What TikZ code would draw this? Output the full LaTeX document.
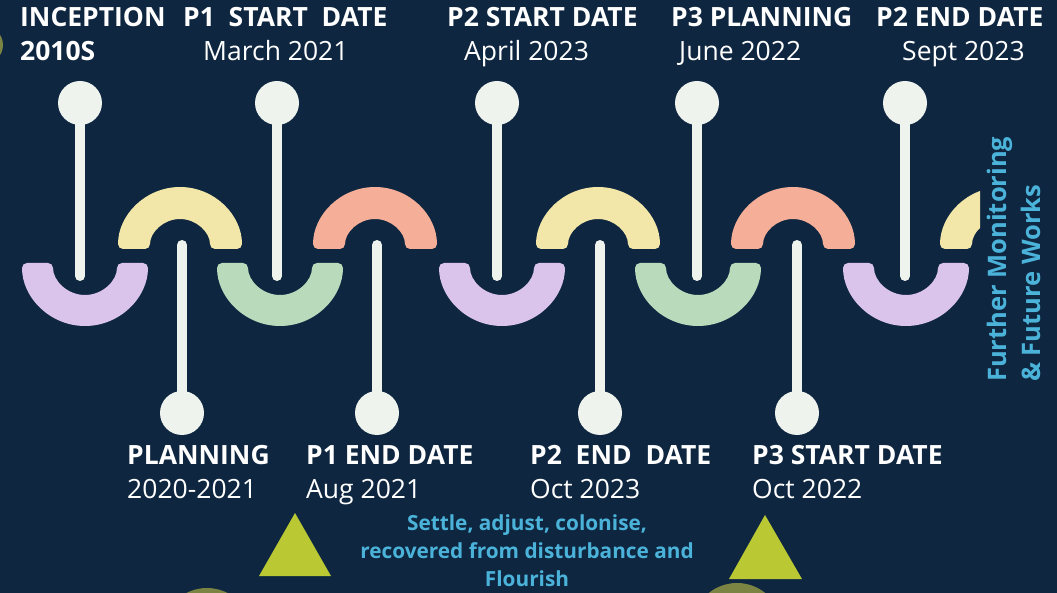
\documentclass[tikz,border=0pt]{standalone}
\usepackage{fontspec}
\setmainfont{Open Sans}
\usepackage{xcolor}
\definecolor{navy}{HTML}{0E2640}
\definecolor{pin}{HTML}{EEF3EE}
\definecolor{lilac}{HTML}{DAC4EC}
\definecolor{butter}{HTML}{F2E7A8}
\definecolor{mint}{HTML}{B9DBBC}
\definecolor{salmon}{HTML}{F5AE97}
\definecolor{sky}{HTML}{4BB3D9}
\definecolor{lime}{HTML}{BAC933}
\definecolor{olive}{HTML}{7B8443}

\begin{document}
\begin{tikzpicture}[
    x=1pt, y=-1pt,
    head/.style={circle, fill=pin, minimum size=44pt, inner sep=0pt},
    stem/.style={draw=pin, line width=10pt, line cap=round},
    title/.style={anchor=base west, inner sep=0pt, text=white,
                  font=\bfseries\fontsize{26.5}{30}\selectfont},
    when/.style={anchor=base west, inner sep=0pt, text=white,
                 font=\fontsize{26.5}{30}\selectfont},
    note/.style={align=center, inner sep=0pt, text=sky,
                 font=\bfseries\fontsize{20.8}{28}\selectfont},
    side/.style={anchor=base west, inner sep=0pt, rotate=90, text=sky,
                 font=\bfseries\fontsize{25.5}{30}\selectfont}
]
\fill[navy] (0,0) rectangle (1057,593);
\useasboundingbox (0,0) rectangle (1057,593);

% Lower cups
\foreach \cx/\col in {85/lilac, 280/mint, 502/lilac, 698/mint, 906/lilac}
    \fill[\col, rounded corners=5pt] (\cx+63,263) arc[start angle=0, end angle=180, radius=63]
        -- (\cx-32,263) arc[start angle=180, end angle=0, radius=32] -- cycle;

% Upper arches
\foreach \cx/\col in {180/butter, 375/salmon, 598/butter, 793/salmon}
    \fill[\col, rounded corners=5pt] (\cx+62,249) arc[start angle=0, end angle=-180, radius=62]
        -- (\cx-30,249) arc[start angle=-180, end angle=0, radius=30] -- cycle;
\begin{scope}
    \clip (0,0) rectangle (980,593);
    \fill[butter, rounded corners=5pt] (1064,249) arc[start angle=0, end angle=-180, radius=62]
        -- (972,249) arc[start angle=-180, end angle=0, radius=30] -- cycle;
\end{scope}

% Top pins
\foreach \i/\px in {1/80, 2/277, 3/497, 4/697, 5/905} {
    \coordinate (te\i) at (\px,276);
    \node[head] (th\i) at (\px,103) {};
    \draw[stem] (th\i.center) -- (te\i);
}

% Bottom pins
\foreach \i/\px in {1/182, 2/377, 3/600, 4/797} {
    \coordinate (be\i) at (\px,245);
    \node[head] (bh\i) at (\px,413) {};
    \draw[stem] (bh\i.center) -- (be\i);
}

% Top labels
\node[title] (inc)  at (20,27)  {INCEPTION};
\node[title] (incd) at (20,61)  {2010S};
\node[title] (p1s)  at (183,27) {P1~ START~ DATE};
\node[when]  (p1sd) at (203,61) {March 2021};
\node[title] (p2s)  at (447,27) {P2 START DATE};
\node[when]  (p2sd) at (464,61) {April 2023};
\node[title] (p3p)  at (671,27) {P3 PLANNING};
\node[when]  (p3pd) at (679,61) {June 2022};
\node[title] (p2e)  at (876,27) {P2 END DATE};
\node[when]  (p2ed) at (902,61) {Sept 2023};

% Bottom labels
\node[title] (pla)  at (127,464) {PLANNING};
\node[when]  (plad) at (127,498) {2020-2021};
\node[title] (p1e)  at (306,464) {P1 END DATE};
\node[when]  (p1ed) at (306,498) {Aug 2021};
\node[title] (p2x)  at (530,464) {P2~ END~ DATE};
\node[when]  (p2xd) at (530,498) {Oct 2023};
\node[title] (p3s)  at (752,464) {P3 START DATE};
\node[when]  (p3sd) at (752,498) {Oct 2022};

% Notes
\node[note] (settle) at (527,551) {Settle, adjust, colonise,\\recovered from disturbance and\\Flourish};
\node[side] (fut1) at (1006,382) {Further Monitoring};
\node[side] (fut2) at (1040,382) {\& Future Works};

% Markers
\fill[lime] (295,513) -- (331,576) -- (259,576) -- cycle;
\fill[lime] (765,515) -- (802,579) -- (729,579) -- cycle;
\fill[olive] (207,633) circle[radius=45];
\fill[olive] (737,628) circle[radius=45];
\fill[olive] (-16,45) circle[radius=19];
\end{tikzpicture}
\end{document}
